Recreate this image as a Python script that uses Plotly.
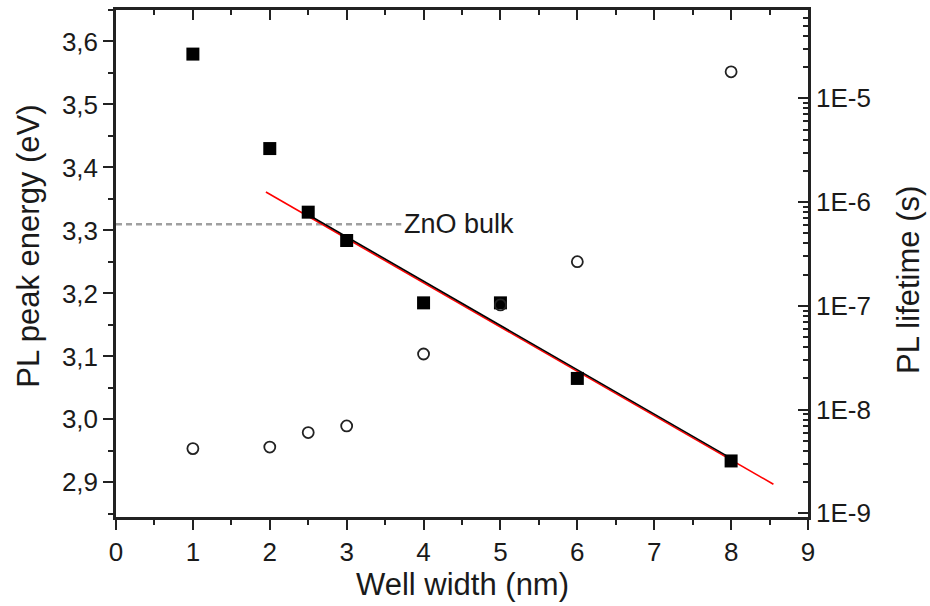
import plotly.graph_objects as go

# ---- data ----
well_width = [1, 2, 2.5, 3, 4, 5, 6, 8]
peak_energy = [3.580, 3.430, 3.329, 3.284, 3.185, 3.185, 3.065, 2.934]
lifetime = [4.2e-9, 4.35e-9, 6.0e-9, 6.95e-9, 3.43e-8, 1.02e-7, 2.66e-7, 1.80e-5]

fit_red_x = [1.95, 8.55]
fit_red_y = [3.361, 2.897]
fit_black_x = [2.5, 8.0]
fit_black_y = [3.325, 2.938]

bulk_x = [0, 3.71]
bulk_y = [3.31, 3.31]
bulk_label = "ZnO bulk"

x_range = [0, 9]
y_left_range = [2.845, 3.650]
y_right_log_range = [-9.036, -4.149]
right_tickvals = [1e-9, 1e-8, 1e-7, 1e-6, 1e-5]
right_ticktext = ["1E-9", "1E-8", "1E-7", "1E-6", "1E-5"]
right_minor = [m * 10.0 ** e for e in range(-10, -3) for m in range(2, 10)]

FONT = "Liberation Sans, Arial, sans-serif"
TXT = "#1a1a1a"

fig = go.Figure()

fig.add_trace(go.Scatter(x=bulk_x, y=bulk_y, mode="lines",
                         line=dict(color="#a0a0a0", width=2.5, dash="6px,4px"),
                         xaxis="x", yaxis="y", showlegend=False, hoverinfo="skip"))
fig.add_trace(go.Scatter(x=fit_red_x, y=fit_red_y, mode="lines",
                         line=dict(color="#ff0000", width=1.6),
                         xaxis="x", yaxis="y", showlegend=False))
fig.add_trace(go.Scatter(x=fit_black_x, y=fit_black_y, mode="lines",
                         line=dict(color="#000000", width=1.6),
                         xaxis="x", yaxis="y", showlegend=False))
fig.add_trace(go.Scatter(x=well_width, y=peak_energy, mode="markers",
                         marker=dict(symbol="square", size=13, color="#000000",
                                     line=dict(width=0)),
                         xaxis="x", yaxis="y", showlegend=False, name="PL peak energy"))
fig.add_trace(go.Scatter(x=well_width, y=lifetime, mode="markers",
                         marker=dict(symbol="circle-open", size=11, color="#222222",
                                     line=dict(width=1.8, color="#222222")),
                         xaxis="x", yaxis="y2", showlegend=False, name="PL lifetime"))
# empty trace so that the top mirror axis is drawn
fig.add_trace(go.Scatter(x=[], y=[], xaxis="x2", yaxis="y", showlegend=False))

axis_common = dict(showline=True, linecolor="#222222", linewidth=2.5, showgrid=False,
                   zeroline=False, tickcolor="#222222", tickwidth=2,
                   tickfont=dict(family=FONT, size=26, color=TXT))

fig.update_layout(
    width=930, height=606,
    margin=dict(l=116, r=122, t=10, b=89),
    paper_bgcolor="white", plot_bgcolor="white",
    separators=", ",
    xaxis=dict(range=x_range, dtick=1, tick0=0, ticks="outside", ticklen=10,
               minor=dict(dtick=0.5, ticks="outside", ticklen=5, tickwidth=2,
                          tickcolor="#222222"),
               anchor="y", **axis_common),
    xaxis2=dict(range=x_range, dtick=1, tick0=0, ticks="inside", ticklen=10,
                overlaying="x", side="top", showticklabels=False, anchor="y",
                minor=dict(dtick=0.5, ticks="inside", ticklen=5, tickwidth=2,
                           tickcolor="#222222"),
                **axis_common),
    yaxis=dict(range=y_left_range, dtick=0.1, tick0=2.9, tickformat=".1f",
               ticks="outside", ticklen=10,
               minor=dict(dtick=0.05, tick0=2.85, ticks="outside", ticklen=5, tickwidth=2,
                          tickcolor="#222222"),
               anchor="x", **axis_common),
    yaxis2=dict(type="log", range=y_right_log_range, overlaying="y", side="right",
                anchor="x", ticks="inside", ticklen=10,
                tickmode="array", tickvals=right_tickvals, ticktext=right_ticktext,
                minor=dict(tickmode="array", tickvals=right_minor, ticks="inside",
                           ticklen=5, tickwidth=2, tickcolor="#222222"),
                **axis_common),
)

fig.add_annotation(x=bulk_x[1], y=bulk_y[1], xref="x", yref="y", text=bulk_label,
                   showarrow=False, xanchor="left", yanchor="middle", xshift=1,
                   font=dict(family=FONT, size=27, color=TXT))

title_font = dict(family=FONT, size=31, color=TXT)
fig.add_annotation(x=-0.127, y=0.5335, xref="paper", yref="paper",
                   text="PL peak energy (eV)", textangle=-90, showarrow=False,
                   xanchor="center", yanchor="middle", font=title_font)
fig.add_annotation(x=1.146, y=0.4675, xref="paper", yref="paper",
                   text="PL lifetime (s)", textangle=-90, showarrow=False,
                   xanchor="center", yanchor="middle", font=title_font)
fig.add_annotation(x=0.5, y=-0.134, xref="paper", yref="paper",
                   text="Well width (nm)", showarrow=False,
                   xanchor="center", yanchor="middle", font=title_font)

fig.write_html("out.html")
